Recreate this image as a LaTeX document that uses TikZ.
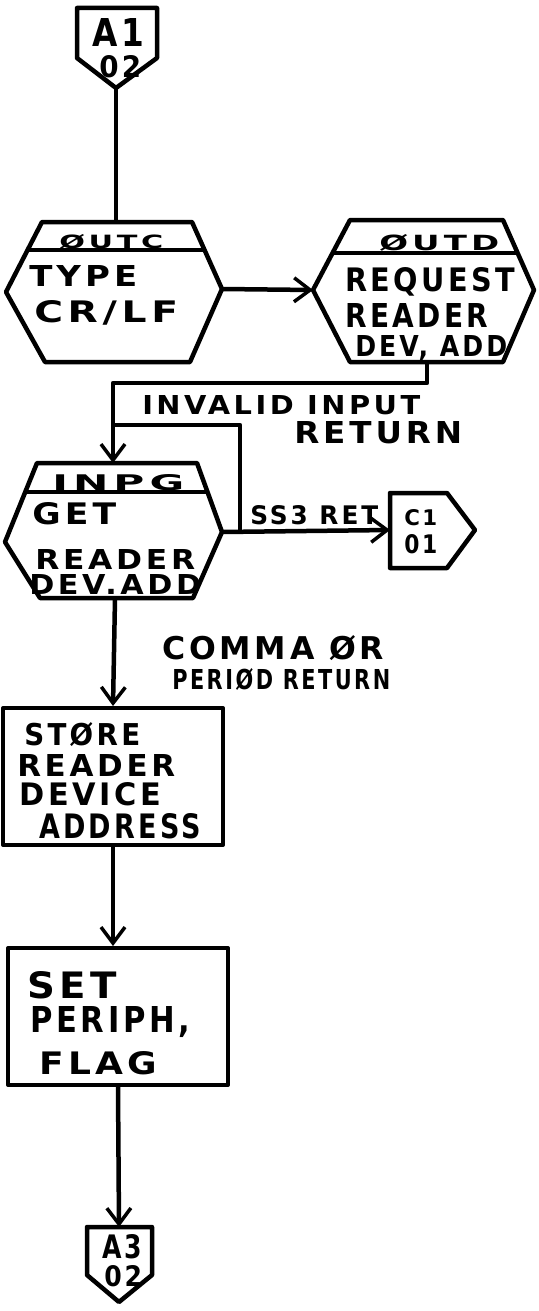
\documentclass[tikz,border=0pt]{standalone}
\usepackage{fontspec}
\usepackage{graphicx}
\setmainfont{DejaVu Sans}
\newfontfamily\hand[LetterSpace=12]{DejaVu Sans}
\usetikzlibrary{arrows.meta}
% fit text into a box of given width and cap height (pt)
\newcommand\fitto[3]{\resizebox{#1pt}{#2pt}{\hand\bfseries\fontsize{30}{30}\selectfont #3}}
\tikzset{
  every path/.style={line width=4.5pt, line join=round},
  conn/.style={-{Straight Barb[length=16pt,width=24pt,line width=3.5pt]}},
  lbl/.style={inner sep=0pt, anchor=north west},
  boxnode/.style={draw, line width=4pt, inner sep=0pt, rectangle},
}
\begin{document}
\begin{tikzpicture}[x=1pt,y=-1pt]
\useasboundingbox (0,0) rectangle (538,1311);
\fill[white] (0,0) rectangle (538,1311);

% ---- A1/02 off-page connector
\draw (77,8) -- (157,8) -- (157,58) -- (116,88) -- (77,58) -- cycle;
\coordinate (a1) at (116,88);
\node[lbl] (a1t) at (90,16) {\fitto{52}{28}{A1}};
\node[lbl] (a1b) at (97,53) {\fitto{42}{22}{02}};

% ---- OUTC hexagon
\draw (42,222) -- (192,222) -- (222,289) -- (190,362) -- (45,362) -- (6,292) -- cycle;
\draw (27,250) -- (204,250);
\coordinate (outcT) at (116,222);
\coordinate (outcR) at (222,289);
\node[lbl] (outch) at (57,232) {\fitto{104}{14}{ØUTC}};
\node[lbl] (outc1) at (27,263) {\fitto{108}{21}{TYPE}};
\node[lbl] (outc2) at (32,298) {\fitto{144}{22}{CR/LF}};

% ---- OUTD hexagon
\draw (350,220) -- (503,220) -- (534,290) -- (503,362) -- (350,362) -- (313,290) -- cycle;
\draw (333,253) -- (518,253);
\coordinate (outdL) at (313,290);
\coordinate (outdB) at (427,362);
\node[lbl] (outdh) at (377,232) {\fitto{120}{16}{ØUTD}};
\node[lbl] (outd1) at (343,265) {\fitto{170}{24}{REQUEST}};
\node[lbl] (outd2) at (343,301) {\fitto{143}{24}{READER}};
\node[lbl] (outd3) at (353,333) {\fitto{152}{21}{DEV, ADD}};

% ---- INPG hexagon
\draw (37,463) -- (197,463) -- (222,532) -- (193,598) -- (40,598) -- (5,542) -- cycle;
\draw (25,492) -- (207,492);
\coordinate (inpgT) at (113,463);
\coordinate (inpgR) at (222,532);
\coordinate (inpgB) at (115,598);
\node[lbl] (inpgh) at (50,472) {\fitto{132}{16}{INPG}};
\node[lbl] (inpg1) at (30,500) {\fitto{84}{22}{GET}};
\node[lbl] (inpg2) at (33,547) {\fitto{160}{20}{READER}};
\node[lbl] (inpg3) at (27,572) {\fitto{172}{20}{DEV.ADD}};

% ---- C1/01 connector
\draw (390,493) -- (447,493) -- (475,530) -- (447,568) -- (390,568) -- cycle;
\coordinate (c1L) at (390,530);
\node[lbl] (c1t) at (402,507) {\fitto{33}{16}{C1}};
\node[lbl] (c1b) at (402,532) {\fitto{33}{19}{01}};

% ---- STORE box
\node[boxnode, minimum width=220pt, minimum height=137pt] (store) at (113,776.5) {};
\node[lbl] (st1) at (22,720) {\fitto{116}{23}{STØRE}};
\node[lbl] (st2) at (15,752) {\fitto{158}{22}{READER}};
\node[lbl] (st3) at (17,780) {\fitto{142}{23}{DEVICE}};
\node[lbl] (st4) at (37,811) {\fitto{162}{25}{ADDRESS}};

% ---- SET box
\node[boxnode, minimum width=220pt, minimum height=137pt] (setb) at (118,1016.5) {};
\node[lbl] (se1) at (25,969) {\fitto{90}{27}{SET}};
\node[lbl] (se2) at (28,1004) {\fitto{160}{26}{PERIPH,}};
\node[lbl] (se3) at (37,1049) {\fitto{118}{23}{FLAG}};

% ---- A3/02 connector
\draw (87,1227) -- (152,1227) -- (152,1275) -- (119,1302) -- (87,1275) -- cycle;
\coordinate (a3T) at (119,1227);
\node[lbl] (a3t) at (100,1232) {\fitto{40}{24}{A3}};
\node[lbl] (a3b) at (102,1263) {\fitto{38}{21}{02}};

% ---- connectors
\draw (a1) -- (outcT);
\draw[conn] (outcR) -- (outdL);
\coordinate (j1) at (427,383);
\coordinate (j2) at (113,383);
\draw[conn] (outdB) -- (j1) -- (j2) -- (inpgT);
\coordinate (k1) at (240,532);
\coordinate (k2) at (240,425);
\coordinate (k3) at (113,425);
\draw (k1) -- (k2) -- (k3);
\draw[conn] (inpgR) -- (c1L);
\draw[conn] (inpgB) -- (store.north);
\draw[conn] (store.south) -- (store.south |- setb.north);
\draw[conn] (setb.south) -- (a3T);

% ---- connector labels
\node[lbl] (inv1) at (140,393) {\fitto{278}{19}{INVALID INPUT}};
\node[lbl] (inv2) at (292,419) {\fitto{168}{22}{RETURN}};
\node[lbl] (ss3) at (248,503) {\fitto{128}{19}{SS3 RET}};
\node[lbl] (cm1) at (160,633) {\fitto{222}{24}{COMMA ØR}};
\node[lbl] (cm2) at (170,666) {\fitto{218}{21}{PERIØD RETURN}};
\end{tikzpicture}
\end{document}
